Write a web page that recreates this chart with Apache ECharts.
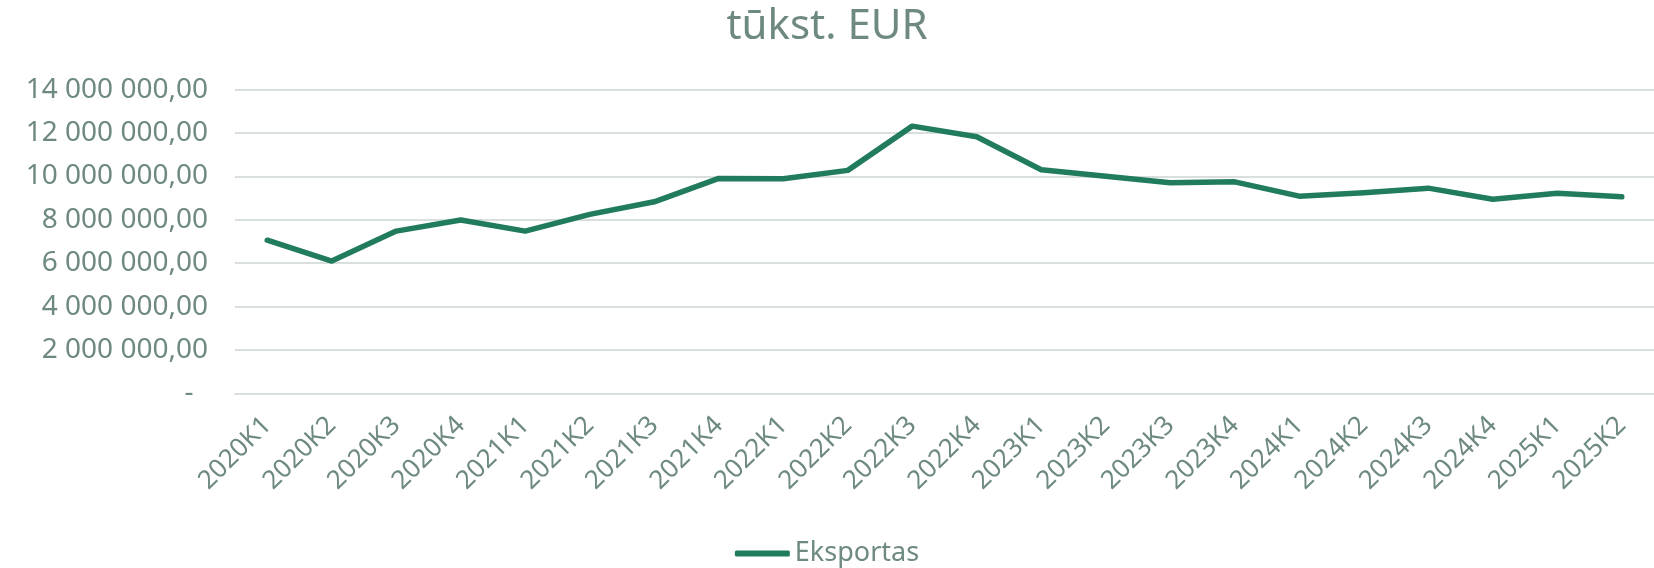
<!DOCTYPE html>
<html>
<head>
<meta charset="utf-8">
<script src="https://cdn.jsdelivr.net/npm/echarts@6/dist/echarts.min.js"></script>
<style>
  html, body { margin: 0; padding: 0; background: #fff; }
  #main { width: 1654px; height: 568px; }
</style>
</head>
<body>
<div id="main"></div>
<script>
// ketvirčiai
var quarters = [
  "2020K1","2020K2","2020K3","2020K4",
  "2021K1","2021K2","2021K3","2021K4",
  "2022K1","2022K2","2022K3","2022K4",
  "2023K1","2023K2","2023K3","2023K4",
  "2024K1","2024K2","2024K3","2024K4",
  "2025K1","2025K2"
];
// eksportas, tūkst. EUR (nuskaityta nuo grafiko)
var eksportas = [
  7060000, 6100000, 7480000, 7990000,
  7480000, 8250000, 8830000, 9910000,
  9890000, 10280000, 12320000, 11830000,
  10310000, 10010000, 9710000, 9750000,
  9090000, 9250000, 9460000, 8950000,
  9220000, 9060000
];
var yTicks = [0, 2000000, 4000000, 6000000, 8000000, 10000000, 12000000, 14000000];

var textColor = "#6e8a7f";
var lineColor = "#217b5e";
var font = "Noto Sans";

function fmt(v) {
  if (v === 0) return "-  ";
  var s = String(Math.round(v));
  var out = "";
  while (s.length > 3) {
    out = " " + s.slice(-3) + out;
    s = s.slice(0, -3);
  }
  return s + out + ",00";
}

var myChart = echarts.init(document.getElementById("main"));
var option = {
  animation: false,
  title: {
    text: "tūkst. EUR",
    left: "center",
    top: 1,
    textStyle: { color: textColor, fontFamily: font, fontSize: 42, fontWeight: "normal" }
  },
  grid: { left: 235, right: 0, top: 89.7, bottom: 174.7, containLabel: false },
  legend: {
    data: ["Eksportas"],
    top: 535,
    left: "center",
    icon: "roundRect",
    itemWidth: 55,
    itemHeight: 6,
    itemGap: 8,
    textStyle: { color: textColor, fontFamily: font, fontSize: 27 }
  },
  xAxis: {
    type: "category",
    data: quarters,
    boundaryGap: true,
    axisLine: { show: true, lineStyle: { color: "#d9dfdd", width: 2 } },
    axisTick: { show: false },
    axisLabel: {
      rotate: 45,
      interval: 0,
      margin: 28,
      color: textColor,
      fontFamily: font,
      fontSize: 26
    }
  },
  yAxis: {
    type: "value",
    min: yTicks[0],
    max: yTicks[yTicks.length - 1],
    interval: 2000000,
    axisLine: { show: false },
    axisTick: { show: false },
    splitLine: { lineStyle: { color: "#d9dfdd", width: 2 } },
    axisLabel: {
      margin: 27,
      color: textColor,
      fontFamily: font,
      fontSize: 28,
      formatter: fmt
    }
  },
  series: [
    {
      name: "Eksportas",
      type: "line",
      data: eksportas,
      symbol: "none",
      lineStyle: { color: lineColor, width: 5.5, cap: "round", join: "round" },
      itemStyle: { color: lineColor }
    }
  ]
};
myChart.setOption(option);
</script>
</body>
</html>
